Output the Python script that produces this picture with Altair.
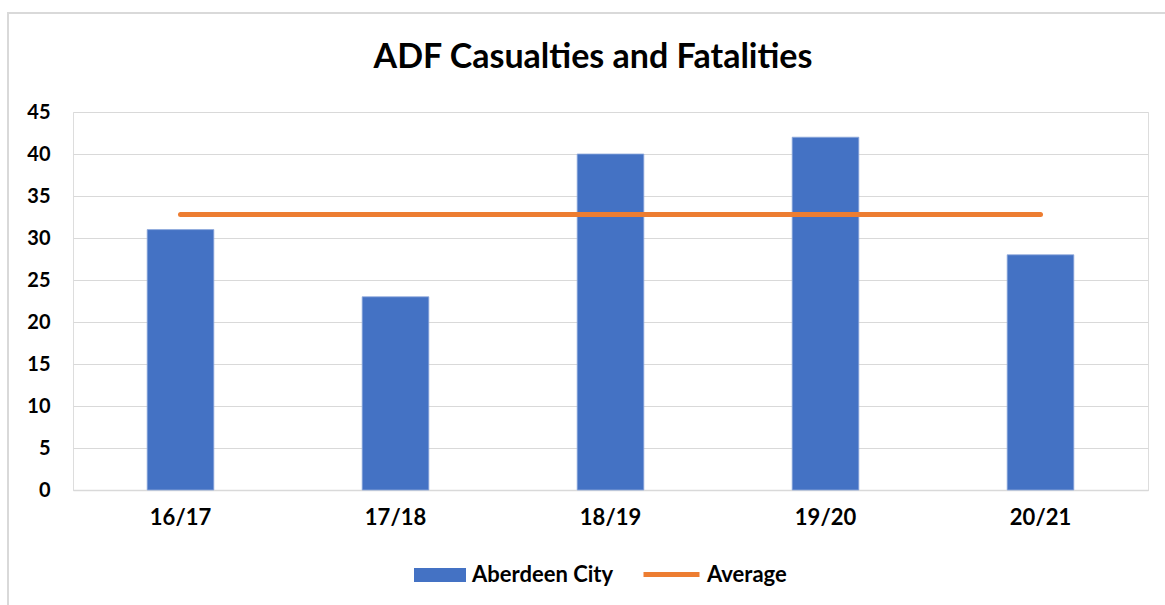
import altair as alt
import pandas as pd

seasons = ["16/17", "17/18", "18/19", "19/20", "20/21"]
aberdeen_city = [31, 23, 40, 42, 28]
average = [32.8, 32.8, 32.8, 32.8, 32.8]
y_ticks = [0, 5, 10, 15, 20, 25, 30, 35, 40, 45]
title_text = ["ADF Casualties and Fatalities"]

FONT = "Lato"
BLUE = "#4472C4"
ORANGE = "#ED7D31"
GRID = "#d9d9d9"

df = pd.DataFrame({
    "season": seasons,
    "value": aberdeen_city,
    "avg": average,
    "s1": ["Aberdeen City"] * len(seasons),
    "s2": ["Average"] * len(seasons),
})

x_enc = alt.X(
    "season:N", sort=seasons, title=None,
    scale=alt.Scale(paddingInner=0.69, paddingOuter=0.345),
    axis=alt.Axis(labelAngle=0, labelFont=FONT, labelFontWeight="bold",
                  labelFontSize=22, labelColor="#000", labelPadding=17,
                  ticks=False, domainColor=GRID, domainWidth=1.5, grid=False),
)
y_enc = alt.Y(
    "value:Q", title=None,
    scale=alt.Scale(domain=[0, 45], nice=False),
    axis=alt.Axis(values=y_ticks, labelFont=FONT, labelFontWeight="bold",
                  labelFontSize=20, labelColor="#000", labelPadding=23,
                  ticks=False, domain=False, gridColor=GRID, gridWidth=1.2),
)

bars = alt.Chart(df).mark_bar(stroke="#8fa9dc", strokeWidth=0.8).encode(
    x=x_enc,
    y=y_enc,
    fill=alt.Fill("s1:N", title=None,
                  scale=alt.Scale(domain=["Aberdeen City"], range=[BLUE]),
                  legend=alt.Legend(orient="none", legendX=341, legendY=437,
                                    symbolType="M-1,-0.27L1,-0.27L1,0.27L-1,0.27Z",
                                    symbolSize=2704, symbolStrokeWidth=0,
                                    labelFont=FONT, labelFontWeight="bold",
                                    labelFontSize=22, labelColor="#000",
                                    padding=0, labelOffset=6)),
)

line = alt.Chart(df).mark_line(strokeWidth=5, strokeCap="round").encode(
    x=x_enc,
    y=alt.Y("avg:Q"),
    stroke=alt.Stroke("s2:N", title=None,
                      scale=alt.Scale(domain=["Average"], range=[ORANGE]),
                      legend=alt.Legend(orient="none", legendX=568, legendY=432,
                                        symbolType="stroke", symbolSize=3136,
                                        symbolStrokeWidth=5,
                                        labelFont=FONT, labelFontWeight="bold",
                                        labelFontSize=22, labelColor="#000",
                                        padding=0, labelOffset=5)),
)

frame = alt.Chart(pd.DataFrame({"k": [0]})).mark_rect(
    fill=None, stroke=GRID, strokeWidth=2
).encode(
    x=alt.value(-65), x2=alt.value(1140),
    y=alt.value(-99), y2=alt.value(520),
)

title = alt.Chart(pd.DataFrame({"t": title_text})).mark_text(
    font=FONT, fontSize=34, fontWeight="bold", color="#000",
    align="center", baseline="alphabetic"
).encode(
    text="t:N", x=alt.value(520), y=alt.value(-44),
)

chart = alt.layer(frame, bars, line, title).properties(
    width=1075,
    height=378,
    padding={"left": 73, "top": 112, "right": 17, "bottom": 115},
    autosize=alt.AutoSizeParams(type="none"),
).configure_view(stroke=None).configure(background="white")

chart.save("out.html", embed_options={"renderer": "svg", "actions": False})
